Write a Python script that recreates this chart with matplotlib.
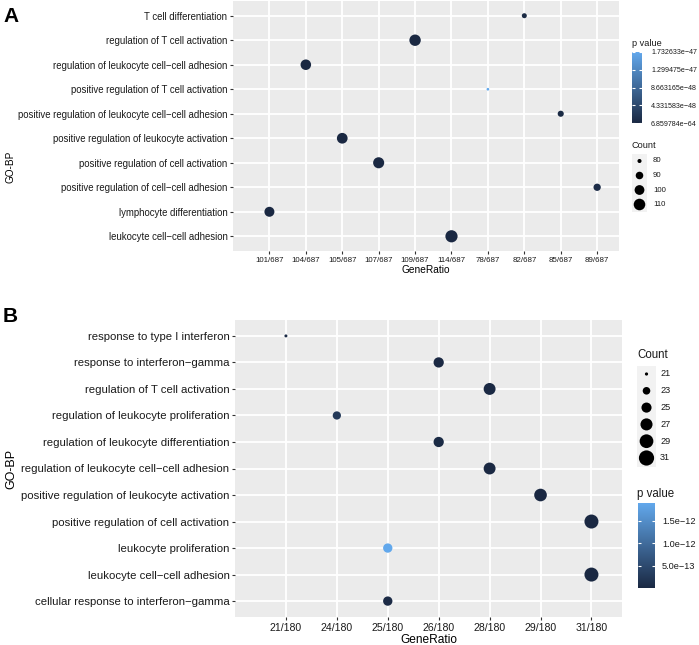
import numpy as np
import matplotlib.pyplot as plt
from matplotlib.colors import LinearSegmentedColormap, Normalize
import matplotlib.cm as cm

plt.rcParams['font.family'] = ['Liberation Sans', 'DejaVu Sans']

W, H = 699, 645

# ---- panel A data (top to bottom)
terms_a = ['T cell differentiation',
           'regulation of T cell activation',
           'regulation of leukocyte cell\u2212cell adhesion',
           'positive regulation of T cell activation',
           'positive regulation of leukocyte cell\u2212cell adhesion',
           'positive regulation of leukocyte activation',
           'positive regulation of cell activation',
           'positive regulation of cell\u2212cell adhesion',
           'lymphocyte differentiation',
           'leukocyte cell\u2212cell adhesion']
ratio_a = ['82/687', '109/687', '104/687', '78/687', '85/687',
           '105/687', '107/687', '89/687', '101/687', '114/687']
count_a = [82, 109, 104, 78, 85, 105, 107, 89, 101, 114]
pval_a = [2.1e-49, 3.5e-60, 1.2e-56, 1.732633e-47, 4.0e-49,
          5.3e-57, 2.2e-58, 6.1e-49, 8.4e-56, 6.859784e-64]
prange_a = (6.859784e-64, 1.732633e-47)
count_breaks_a = [80, 90, 100, 110]

# ---- panel B data (top to bottom)
terms_b = ['response to type I interferon',
           'response to interferon\u2212gamma',
           'regulation of T cell activation',
           'regulation of leukocyte proliferation',
           'regulation of leukocyte differentiation',
           'regulation of leukocyte cell\u2212cell adhesion',
           'positive regulation of leukocyte activation',
           'positive regulation of cell activation',
           'leukocyte proliferation',
           'leukocyte cell\u2212cell adhesion',
           'cellular response to interferon\u2212gamma']
ratio_b = ['21/180', '26/180', '28/180', '24/180', '26/180', '28/180',
           '29/180', '31/180', '25/180', '31/180', '25/180']
count_b = [21, 26, 28, 24, 26, 28, 29, 31, 25, 31, 25]
pval_b = [4.0e-14, 3.0e-14, 2.0e-14, 2.6e-13, 5.0e-14, 2.5e-14,
          1.5e-14, 1.0e-14, 1.9e-12, 1.2e-14, 6.0e-14]
prange_b = (1.0e-14, 1.9e-12)
count_breaks_b = [21, 23, 25, 27, 29, 31]
pticks_b = [5.0e-13, 1.0e-12, 1.5e-12]
pticklabels_b = ['5.0e\u221213', '1.0e\u221212', '1.5e\u221212']

cmap = LinearSegmentedColormap.from_list('gg', ['#1A2842', '#62A8EC'])
TXT = '#1a1a1a'


def box(fig, l, t, r, b):
    return fig.add_axes([l / W, 1 - b / H, (r - l) / W, (b - t) / H])


def point_size(c, lo, hi, k):
    g = np.sqrt(1 + (np.asarray(c, float) - lo) / (hi - lo) * 35)
    d = k * g + 0.8
    return (d * 0.72) ** 2


def dot_panel(ax, terms, ratios, counts, pvals, prange, k, fs_y, fs_x, fs_t,
              ylab_xy):
    cats = sorted(set(ratios))
    xs = [cats.index(r) for r in ratios]
    n = len(terms)
    ys = [n - 1 - i for i in range(n)]
    lo, hi = min(counts), max(counts)
    norm = Normalize(*prange)
    ax.set_facecolor('#EBEBEB')
    ax.grid(True, color='white', lw=1.3)
    ax.set_axisbelow(True)
    for s in ax.spines.values():
        s.set_visible(False)
    ax.scatter(xs, ys, s=point_size(counts, lo, hi, k), c=pvals, cmap=cmap,
               norm=norm, zorder=3, linewidths=0)
    ax.set_xticks(range(len(cats)))
    ax.set_xticklabels(cats, fontsize=fs_x, color=TXT)
    ax.set_yticks(ys)
    ax.set_yticklabels(terms, fontsize=fs_y, color=TXT)
    ax.set_xlim(-1.0, len(cats) - 1 + 0.6)
    ax.set_ylim(-0.6, n - 1 + 0.6)
    ax.tick_params(length=2.5, width=0.8, color='#333333', pad=1.5)
    ax.set_xlabel('GeneRatio', fontsize=fs_t, labelpad=1)
    ax.set_ylabel('GO-BP', fontsize=ylab_xy[2])
    ax.yaxis.set_label_coords(*ylab_xy[:2])
    return lo, hi


def colorbar(fig, l, t, r, b, prange, ticks, labels, fs, pad):
    cax = box(fig, l, t, r, b)
    sm = cm.ScalarMappable(norm=Normalize(*prange), cmap=cmap)
    cb = fig.colorbar(sm, cax=cax)
    cb.outline.set_visible(False)
    cb.set_ticks(ticks)
    cb.set_ticklabels(labels)
    cax.tick_params(direction='in', length=2, width=0.8, colors='white',
                    left=True, right=True, labelcolor=TXT, labelsize=fs, pad=pad)
    return cax


fig = plt.figure(figsize=(W / 100, H / 100), dpi=100)

# ---------------- panel A
axA = box(fig, 233, 1, 619, 251)
loA, hiA = dot_panel(axA, terms_a, ratio_a, count_a, pval_a, prange_a,
                     1.9, 6.9, 5.7, 7.3,
                     ((16 - 233) / 386, (251 - 167) / 250, 7.2))
fig.text(3 / W, 1 - 16 / H, 'A', fontsize=15, fontweight='bold', va='center')

ticks_a = np.linspace(prange_a[0], prange_a[1], 5)
labels_a = ['{:.6e}'.format(v).replace('-', '\u2212') for v in ticks_a]
fig.text(632 / W, 1 - 44 / H, 'p value', fontsize=6.6, color=TXT, va='center')
colorbar(fig, 632, 52, 642, 123, prange_a, ticks_a, labels_a, 5.1, 6.5)

# overlay for legends (pixel coordinates)
ov = fig.add_axes([0, 0, 1, 1], facecolor='none')
ov.set_xlim(0, W)
ov.set_ylim(H, 0)
ov.axis('off')

fig.text(632 / W, 1 - 146 / H, 'Count', fontsize=6.6, color=TXT, va='center')
key_y = 161 + 14.5 * np.arange(len(count_breaks_a))
ov.add_patch(plt.Rectangle((632, key_y[0] - 7.5), 15, key_y[-1] - key_y[0] + 15,
                           color='#F2F2F2', lw=0))
ov.scatter([639.5] * len(count_breaks_a), key_y,
           s=point_size(count_breaks_a, loA, hiA, 1.9), color='black', lw=0)
for yy, c in zip(key_y, count_breaks_a):
    ov.text(653, yy, str(c), fontsize=5.6, color=TXT, va='center')

# ---------------- panel B
axB = box(fig, 235, 320, 622, 617)
loB, hiB = dot_panel(axB, terms_b, ratio_b, count_b, pval_b, prange_b,
                     2.2, 8.2, 7.6, 8.6,
                     ((17 - 235) / 387, (617 - 469) / 297, 9.0))
fig.text(3 / W, 1 - 317 / H, 'B', fontsize=15, fontweight='bold', va='center')

fig.text(637 / W, 1 - 355 / H, 'Count', fontsize=8.3, color=TXT, va='center')
key_yb = 374 + 16.8 * np.arange(len(count_breaks_b))
ov.add_patch(plt.Rectangle((637, key_yb[0] - 8.5), 19, key_yb[-1] - key_yb[0] + 17,
                           color='#F2F2F2', lw=0))
ov.scatter([646.5] * len(count_breaks_b), key_yb,
           s=point_size(count_breaks_b, loB, hiB, 2.4), color='black', lw=0)
for yy, c in zip(key_yb, count_breaks_b):
    ov.text(660, yy, str(c), fontsize=6.6, color=TXT, va='center')

fig.text(637 / W, 1 - 494 / H, 'p value', fontsize=8.3, color=TXT, va='center')
colorbar(fig, 638, 503, 655, 588, prange_b, pticks_b, pticklabels_b, 6.6, 5)

fig.savefig('out.png', dpi=100)
